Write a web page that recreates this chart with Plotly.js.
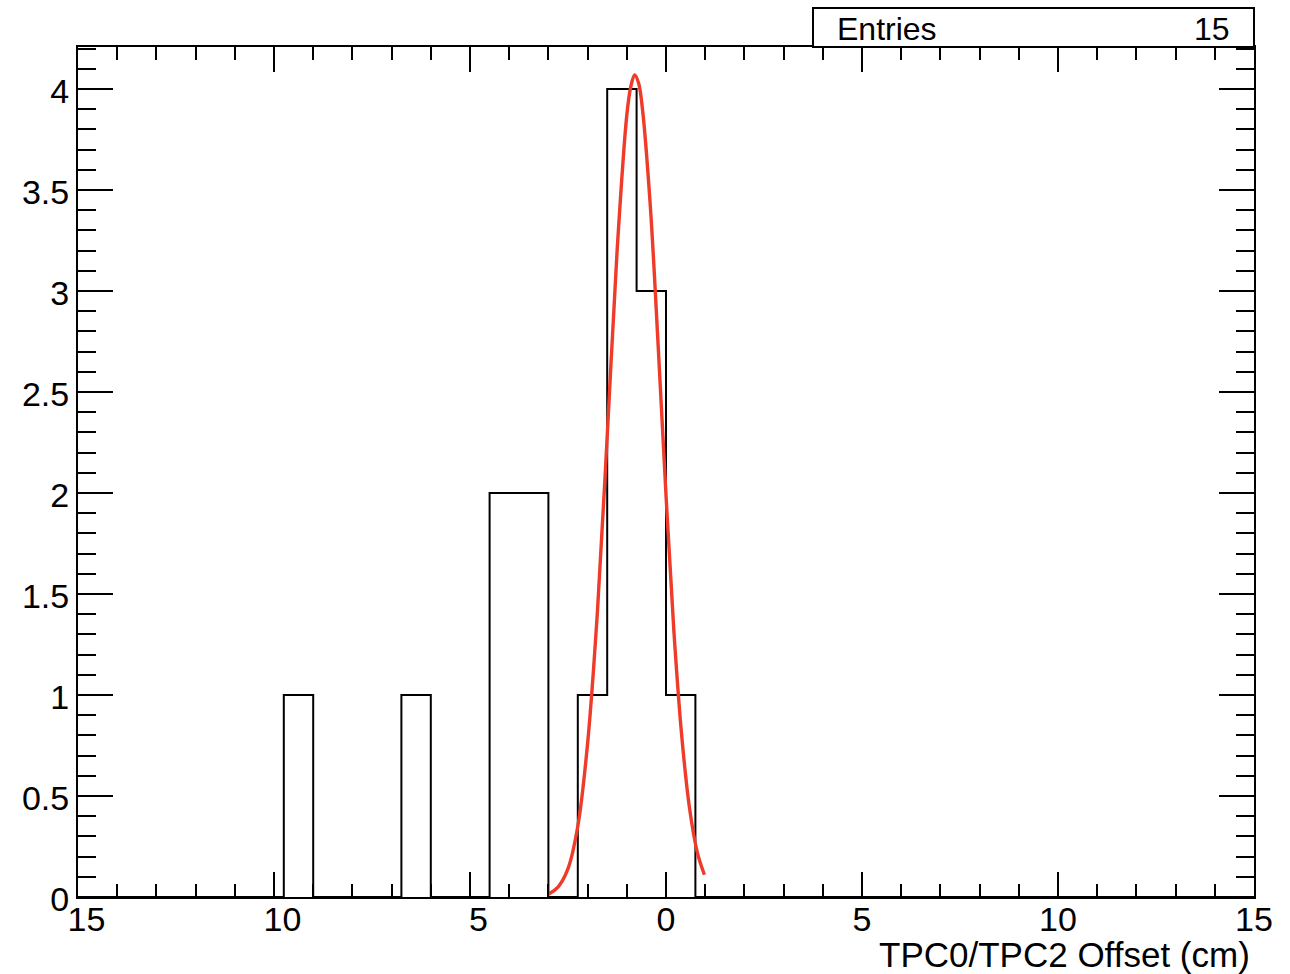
<!DOCTYPE html>
<html>
<head>
<meta charset="utf-8">
<script src="https://cdn.plot.ly/plotly-3.0.1.min.js"></script>
<style>html,body{margin:0;padding:0;background:#fff;}#chart{width:1290px;height:974px;}</style>
</head>
<body>
<div id="chart"></div>
<script>
// Histogram definition: 40 bins from -15 to 15
const histLow = -15;
const histHigh = 15;
const counts = [0,0,0,0,0,0,0,1,0,0,
                0,1,0,0,2,2,0,1,4,3,
                1,0,0,0,0,0,0,0,0,0,
                0,0,0,0,0,0,0,0,0,0];
const entries = 15;

// Fit curve points
const fitX = [-2.98,-2.75,-2.5,-2.25,-2.0,-1.75,-1.5,-1.25,-1.0,-0.9,-0.8,-0.7,-0.6,-0.4,-0.2,0.0,0.2,0.4,0.6,0.8,0.98];
const fitY = [0.016,0.05,0.14,0.35,0.76,1.41,2.28,3.19,3.87,4.01,4.07,4.03,3.90,3.42,2.73,1.99,1.32,0.80,0.44,0.22,0.11];

// Tick labels as shown (minus signs not rendered in the original)
const xTickVals = [-15,-10,-5,0,5,10,15];
const xTickText = ["\u200215","\u200210","\u20025","0","5","10","15"];
const xTitle = "TPC0/TPC2 Offset (cm)";

const nb = counts.length;
const bw = (histHigh - histLow) / nb;
const stepX = [], stepY = [];
for (let i = 0; i <= nb; i++) {
  stepX.push(histLow + i * bw);
  stepY.push(i < nb ? counts[i] : counts[nb - 1]);
}

const font = "Liberation Sans, Arial, Helvetica, sans-serif";

const traces = [
  {x: stepX, y: stepY, type: 'scatter', mode: 'lines',
   line: {shape: 'hv', color: '#000', width: 2}, hoverinfo: 'skip'},
  {x: fitX, y: fitY, type: 'scatter', mode: 'lines',
   line: {shape: 'spline', smoothing: 1.0, color: '#ee3b2a', width: 3.4}, hoverinfo: 'skip'}
];

const layout = {
  width: 1290, height: 974,
  margin: {l: 78, r: 36, t: 47, b: 77},
  paper_bgcolor: '#fff', plot_bgcolor: '#fff',
  showlegend: false,
  font: {family: font, color: '#000', size: 33},
  xaxis: {
    range: [histLow, histHigh], showgrid: false, zeroline: false,
    showline: true, linecolor: '#000', linewidth: 2, mirror: 'allticks',
    ticks: 'inside', ticklen: 25, tickwidth: 2, tickcolor: '#000',
    tickmode: 'array', tickvals: xTickVals, ticktext: xTickText,
    tickfont: {family: font, size: 34, color: '#000'},
    ticklabelstandoff: -9,
    minor: {dtick: 1, tick0: 0, ticks: 'inside', ticklen: 13, tickwidth: 2, tickcolor: '#000', showgrid: false}
  },
  yaxis: {
    range: [0, 4.208], showgrid: false, zeroline: false,
    showline: true, linecolor: '#000', linewidth: 2, mirror: 'allticks',
    ticks: 'inside', ticklen: 35, tickwidth: 2, tickcolor: '#000',
    dtick: 0.5, tick0: 0,
    tickfont: {family: font, size: 34, color: '#000'},
    ticklabelshift: 2,
    minor: {dtick: 0.1, tick0: 0, ticks: 'inside', ticklen: 18, tickwidth: 2, tickcolor: '#000', showgrid: false}
  },
  shapes: [
    {type: 'rect', xref: 'paper', yref: 'paper', x0: 0.625, x1: 1.0, y0: 1.0, y1: 1.0459,
     line: {color: '#000', width: 2}, fillcolor: '#fff'}
  ],
  annotations: [
    {xref: 'paper', yref: 'paper', x: 0.6437, y: 1.0215, xanchor: 'left', yanchor: 'middle',
     text: 'Entries', showarrow: false, font: {family: font, size: 32, color: '#000'}},
    {xref: 'paper', yref: 'paper', x: 0.9813, y: 1.0215, xanchor: 'right', yanchor: 'middle',
     text: String(entries), showarrow: false, font: {family: font, size: 32, color: '#000'}},
    {xref: 'paper', yref: 'paper', x: 0.9983, y: -0.068, xanchor: 'right', yanchor: 'middle',
     text: xTitle, showarrow: false, font: {family: font, size: 35, color: '#000'}}
  ]
};

Plotly.newPlot('chart', traces, layout, {displayModeBar: false, staticPlot: true});
</script>
</body>
</html>
